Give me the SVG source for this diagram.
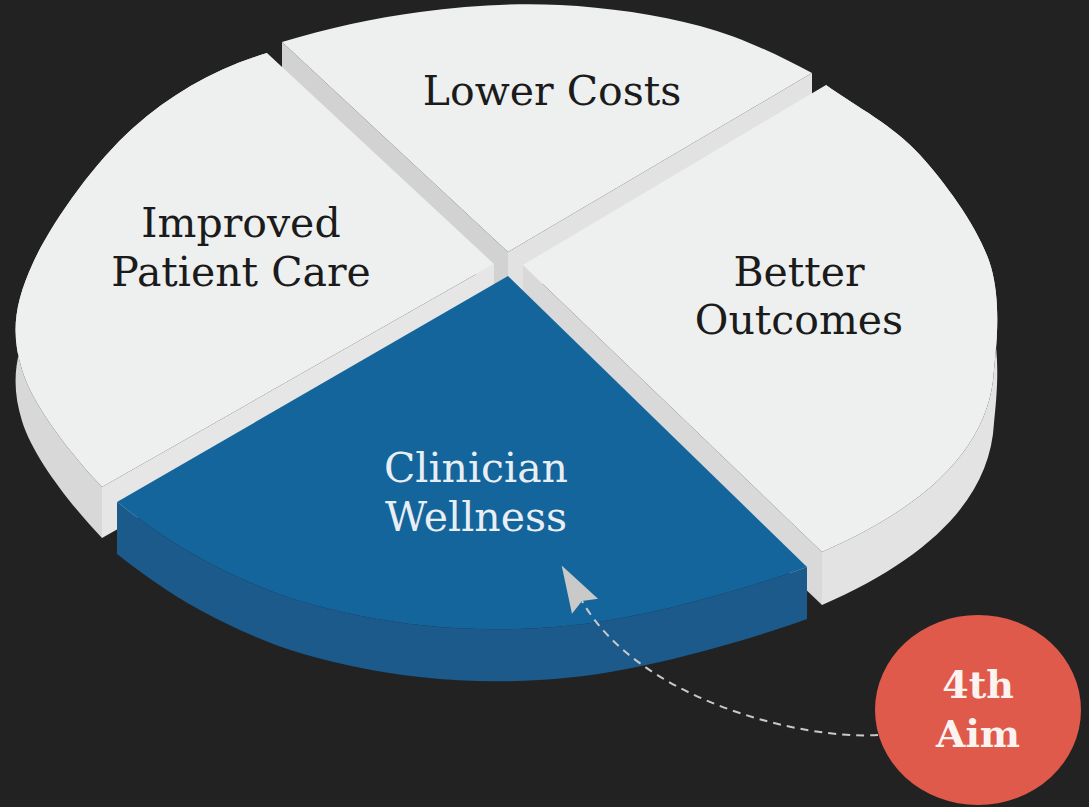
<svg xmlns="http://www.w3.org/2000/svg" xmlns:xlink="http://www.w3.org/1999/xlink" width="1089" height="807" viewBox="0 0 1089 807">
  <style>
    .top { fill: #eef0f0; }
    .label { font-family: "DejaVu Serif", "Liberation Serif", serif; font-size: 41px; text-anchor: middle; fill: #1b1b1b; }
    .label-light { fill: #e8eef3; }
    .aim { font-family: "DejaVu Serif", "Liberation Serif", serif; font-size: 38px; font-weight: bold; text-anchor: middle; fill: #fbf3f0; }
    .dash { fill: none; stroke: #c9c9c9; stroke-width: 2; stroke-dasharray: 8 6; }
  </style>
  <defs>
    <marker id="pointer" viewBox="-2 -18 52 36" markerWidth="52" markerHeight="36" refX="6" refY="0" orient="auto" markerUnits="userSpaceOnUse">
      <path d="M47,0 L0,-15 L6,0 L0,15 Z" fill="#c9c9c9"/>
    </marker>
  </defs>

  <rect width="1089" height="807" fill="#222222"/>

  <!-- back slice: only its two cut faces show below the top -->
  <g id="slice-lower-costs">
    <path d="M282,42 L508,252 L508,304 L282,94 Z" fill="#d2d2d2"/>
    <path d="M508,252 L812,73 L812,125 L508,304 Z" fill="#e2e2e2"/>
    <path class="top" d="M508,252 L282,42 C328.7,28 373.7,18.2 420,12 C466.3,5.8 513.3,2.7 560,5 C606.7,7.3 658,14.7 700,26 C742,37.3 777,54.7 812,73 Z"/>
    <text class="label" x="552" y="105">Lower Costs</text>
  </g>

  <!-- left slice: rim band, front cut face, top -->
  <g id="slice-patient-care">
    <path d="M267,53 C217,68 172,93 133,128 C94,163 51.5,222.7 33,263 C14.5,303.3 10.5,332.7 22,370 C33.5,407.3 72,455.3 102,487 L102,538 C72,506.3 33.5,458.3 22,421 C10.5,383.7 14.5,354.3 33,314 C51.5,273.7 94,214 133,179 C172,144 217,119 267,104 Z" fill="#d8d8d8"/>
    <path d="M102,487 L494,264 L494,315 L102,538 Z" fill="#e6e6e6"/>
    <path class="top" d="M494,264 L267,53 C217,68 172,93 133,128 C94,163 51.5,222.7 33,263 C14.5,303.3 10.5,332.7 22,370 C33.5,407.3 72,455.3 102,487 Z"/>
    <text class="label" x="241" y="237">Improved</text>
    <text class="label" x="241" y="286">Patient Care</text>
  </g>

  <!-- right slice: rim band, front cut face, top -->
  <g id="slice-outcomes">
    <path d="M826,85 C857.7,107.7 892.5,124.7 920,155 C947.5,185.3 981,232 991,267 C1001,302 996.7,343.7 994,370 C990,445 930,505 822,552 L822,605 C930,558 990,498 994,423 C996.7,396.7 1001,355 991,320 C981,285 947.5,238.3 920,208 C892.5,177.7 857.7,160.7 826,138 Z" fill="#e3e3e3"/>
    <path d="M523,265 L822,552 L822,605 L523,318 Z" fill="#d9d9d9"/>
    <path class="top" d="M523,265 L826,85 C857.7,107.7 892.5,124.7 920,155 C947.5,185.3 981,232 991,267 C1001,302 996.7,343.7 994,370 C990,445 930,505 822,552 Z"/>
    <text class="label" x="799" y="286">Better</text>
    <text class="label" x="799" y="334">Outcomes</text>
  </g>

  <!-- front slice: rim band and top -->
  <g id="slice-wellness">
    <path d="M117,502 C143.7,522.7 169.5,541.5 200,558 C230.5,574.5 263.3,589.8 300,601 C336.7,612.2 380,620.5 420,625 C460,629.5 500,630.5 540,628 C580,625.5 615.5,620.2 660,610 C704.5,599.8 758.7,584.3 807,567 L807,619 C758.7,636.3 704.5,651.8 660,662 C615.5,672.2 580,677.5 540,680 C500,682.5 460,681.5 420,677 C380,672.5 336.7,664.2 300,653 C263.3,641.8 230.5,626.5 200,610 C169.5,593.5 143.7,574.7 117,554 Z" fill="#1b5a8b"/>
    <path d="M508,276 L117,502 C143.7,522.7 169.5,541.5 200,558 C230.5,574.5 263.3,589.8 300,601 C336.7,612.2 380,620.5 420,625 C460,629.5 500,630.5 540,628 C580,625.5 615.5,620.2 660,610 C704.5,599.8 758.7,584.3 807,567 Z" fill="#13659b"/>
    <text class="label label-light" x="476" y="482">Clinician</text>
    <text class="label label-light" x="476" y="531">Wellness</text>
  </g>

  <g id="connectors">
    <path class="dash" d="M878,735 C800,740 638,699 582,601" marker-end="url(#pointer)"/>
  </g>

  <g id="badge-4th-aim">
    <ellipse cx="978" cy="710" rx="103" ry="95" fill="#e05a4b"/>
    <text class="aim" x="978" y="698">4th</text>
    <text class="aim" x="978" y="747">Aim</text>
  </g>
</svg>
